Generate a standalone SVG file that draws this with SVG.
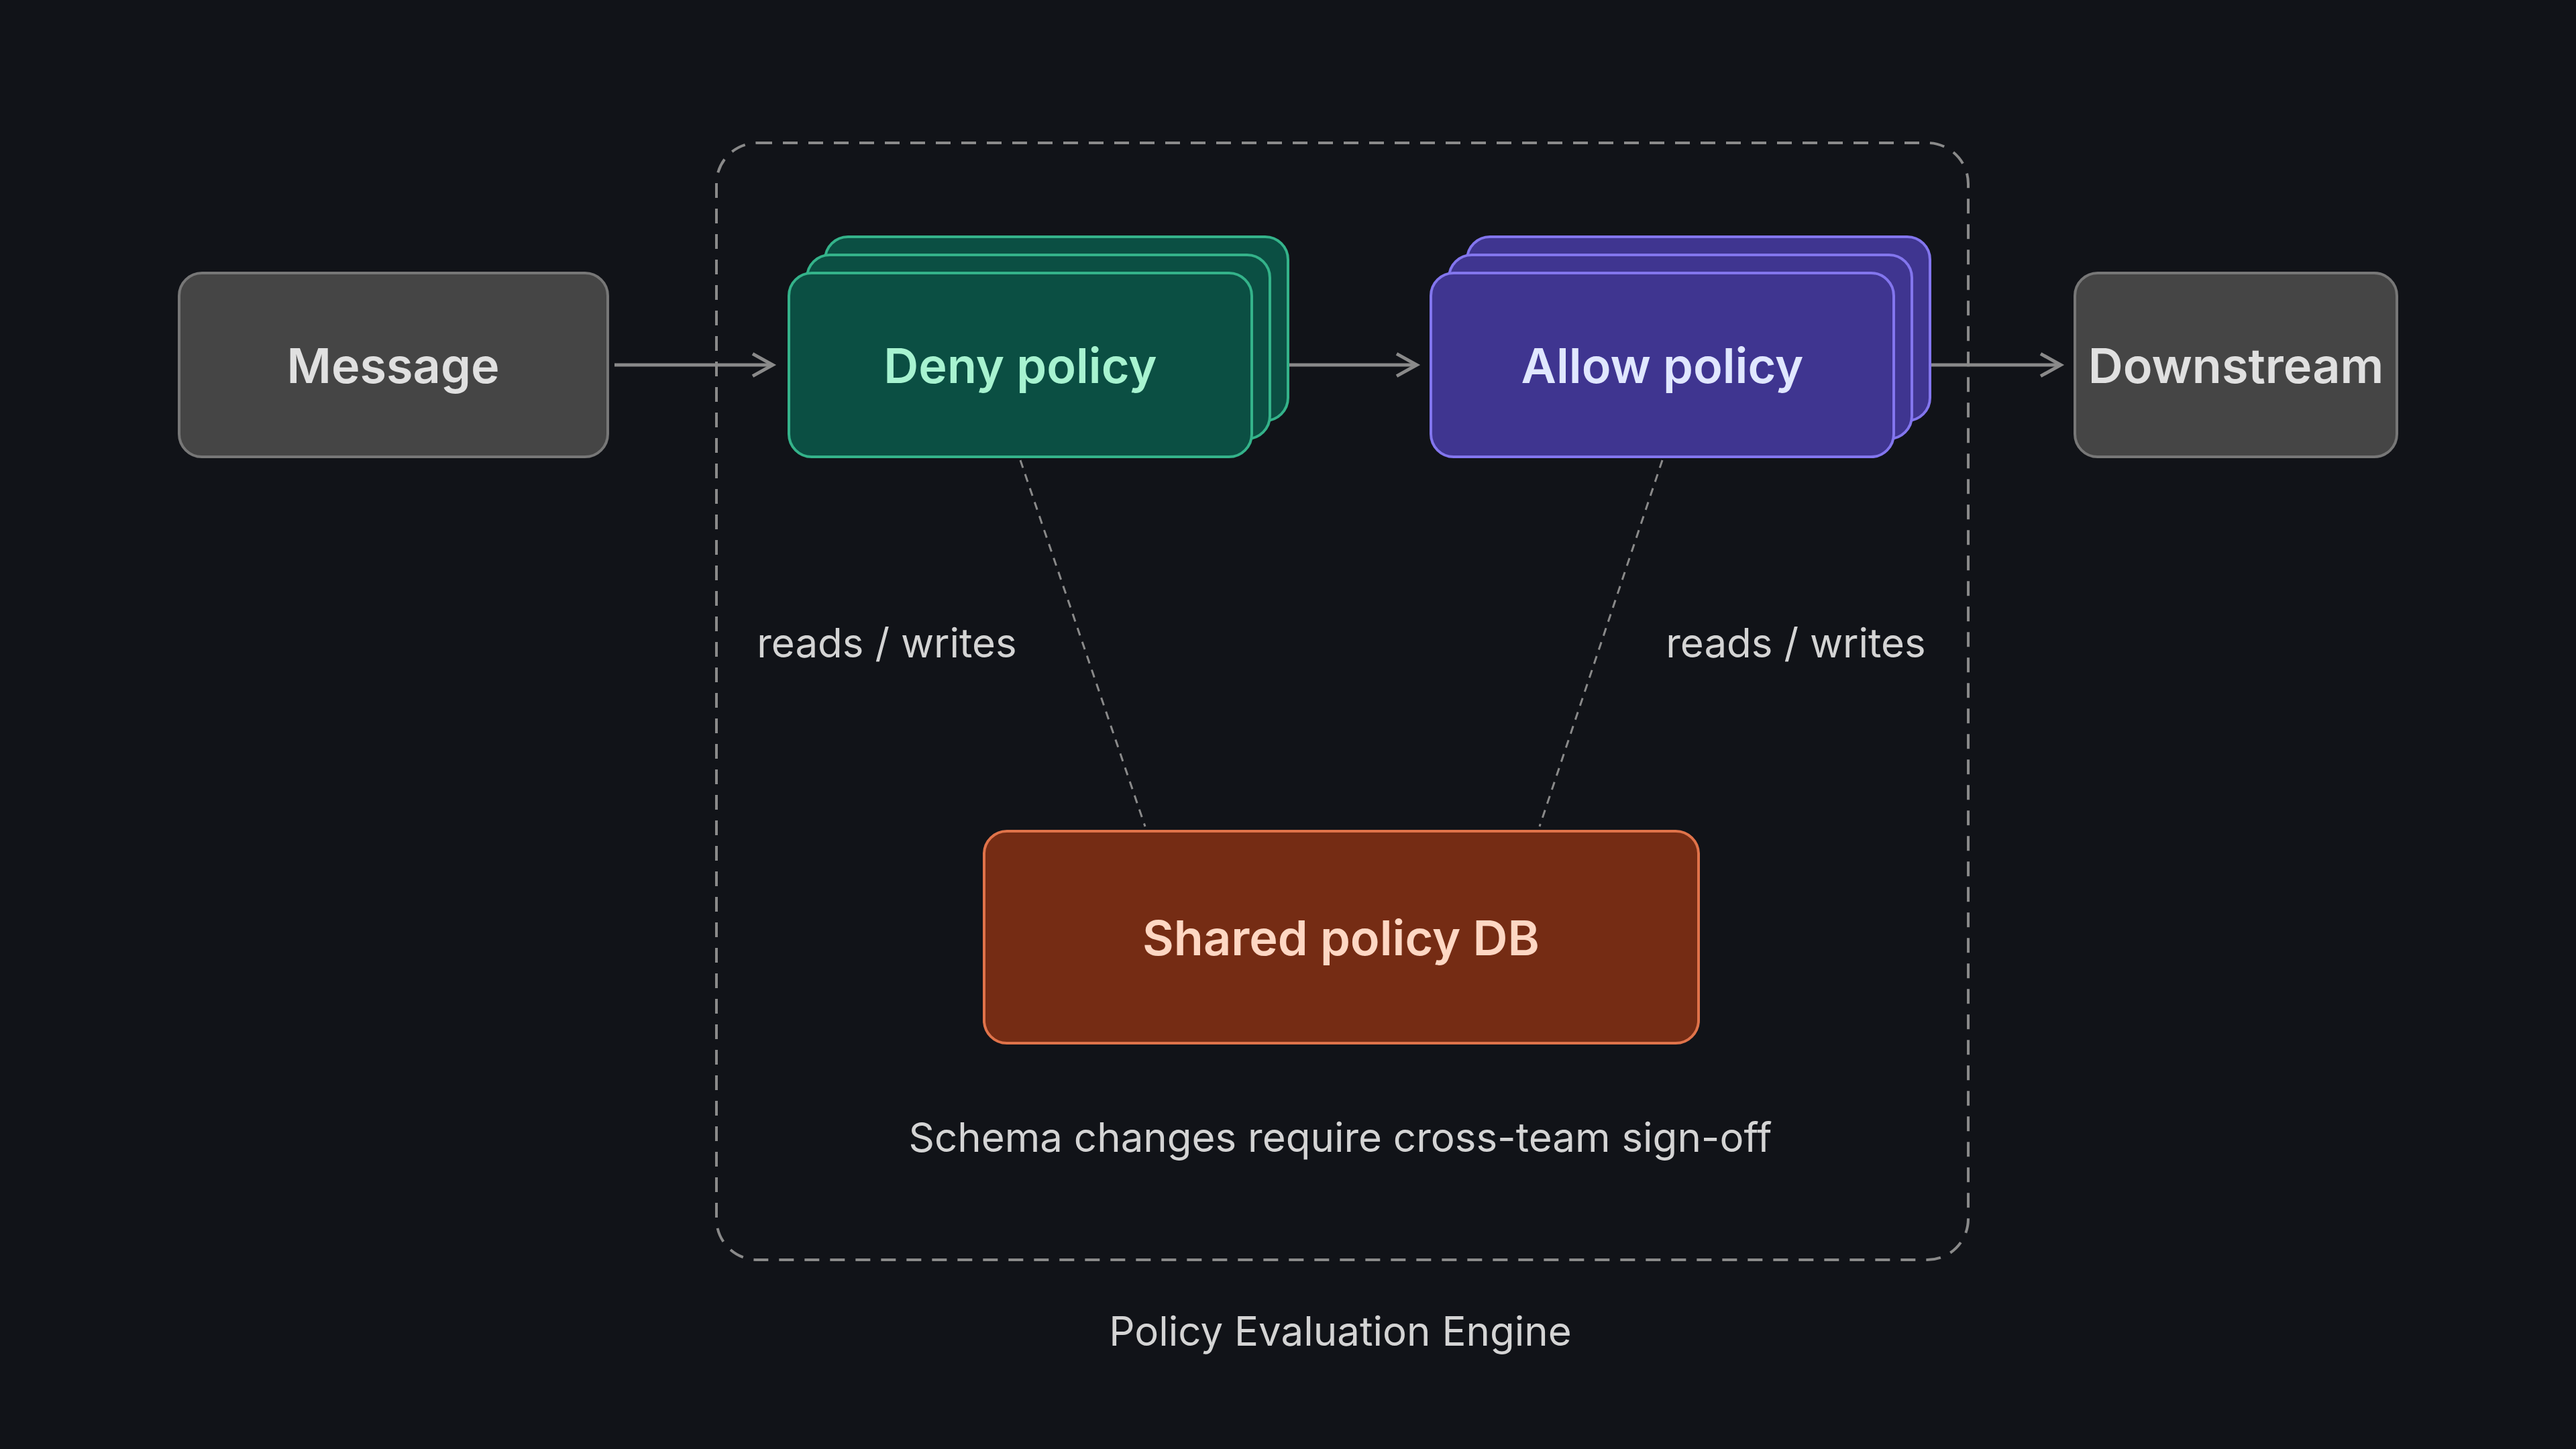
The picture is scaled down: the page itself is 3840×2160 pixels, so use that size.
<svg xmlns="http://www.w3.org/2000/svg" width="3840" height="2160" viewBox="0 0 3840 2160">
<style>
text{font-family:Inter,"Liberation Sans",sans-serif;text-anchor:middle;dominant-baseline:central}
.t{font-size:72px;font-weight:600}
.l{font-size:60px;fill:#d4d4d4}
.gray{fill:#454545;stroke:#777;stroke-width:4}
.deny{fill:#0b4f43;stroke:#34b38a;stroke-width:4}
.allow{fill:#3f3590;stroke:#8376ee;stroke-width:4}
.conn{stroke:#8a8a8a;stroke-width:5;fill:none}
</style>
<defs><marker id="a" viewBox="0 0 12 12" refX="10" refY="6" markerWidth="12" markerHeight="12" markerUnits="userSpaceOnUse" orient="auto"><path d="M1 1L10 6L1 11" fill="none" stroke="#8a8a8a" stroke-width="1.8"/></marker>
<marker id="b" viewBox="0 0 12 12" refX="10" refY="6" markerWidth="40" markerHeight="40" markerUnits="userSpaceOnUse" orient="auto"><path d="M1 1L10 6L1 11" fill="none" stroke="#8a8a8a" stroke-width="1.5"/></marker></defs>
<rect width="3840" height="2160" fill="#111318"/>
<g id="engine"><rect x="1068" y="213" width="1866" height="1665" rx="61" fill="none" stroke="#8a8a8a" stroke-width="4" stroke-dasharray="22 16"/>
<text class="l" x="1998" y="1984">Policy Evaluation Engine</text></g>
<g id="connectors">
<line class="conn" x1="916" y1="544" x2="1152" y2="544" marker-end="url(#b)"/>
<line class="conn" x1="1905" y1="544" x2="2112" y2="544" marker-end="url(#b)"/>
<line class="conn" x1="2865" y1="544" x2="3072" y2="544" marker-end="url(#b)"/>
<line x1="1521" y1="686" x2="1707" y2="1232" stroke="#8a8a8a" stroke-width="3" stroke-dasharray="12 10"/>
<line x1="2478" y1="686" x2="2295" y2="1232" stroke="#8a8a8a" stroke-width="3" stroke-dasharray="12 10"/>
<text class="l" x="1322" y="958">reads / writes</text>
<text class="l" x="2677" y="958">reads / writes</text>
</g>
<g id="message"><rect class="gray" x="267" y="407" width="639" height="274" rx="34"/><text class="t" x="586" y="544" fill="#e0e0e0">Message</text></g>
<g id="deny"><rect class="deny" x="1230" y="353" width="690" height="274" rx="34"/><rect class="deny" x="1203" y="380" width="690" height="274" rx="34"/><rect class="deny" x="1176" y="407" width="690" height="274" rx="34"/><text class="t" x="1521" y="544" fill="#a7f3d0">Deny policy</text></g>
<g id="allow"><rect class="allow" x="2187" y="353" width="690" height="274" rx="34"/><rect class="allow" x="2160" y="380" width="690" height="274" rx="34"/><rect class="allow" x="2133" y="407" width="690" height="274" rx="34"/><text class="t" x="2478" y="544" fill="#e0e7ff">Allow policy</text></g>
<g id="downstream"><rect class="gray" x="3093" y="407" width="480" height="274" rx="34"/><text class="t" x="3333" y="544" fill="#e0e0e0">Downstream</text></g>
<g id="db"><rect x="1467" y="1239" width="1065" height="316" rx="34" fill="#752c14" stroke="#e0734a" stroke-width="4"/><text class="t" x="1999" y="1397" fill="#fed7c3">Shared policy DB</text>
<text class="l" x="1998" y="1695">Schema changes require cross-team sign-off</text></g>
</svg>
